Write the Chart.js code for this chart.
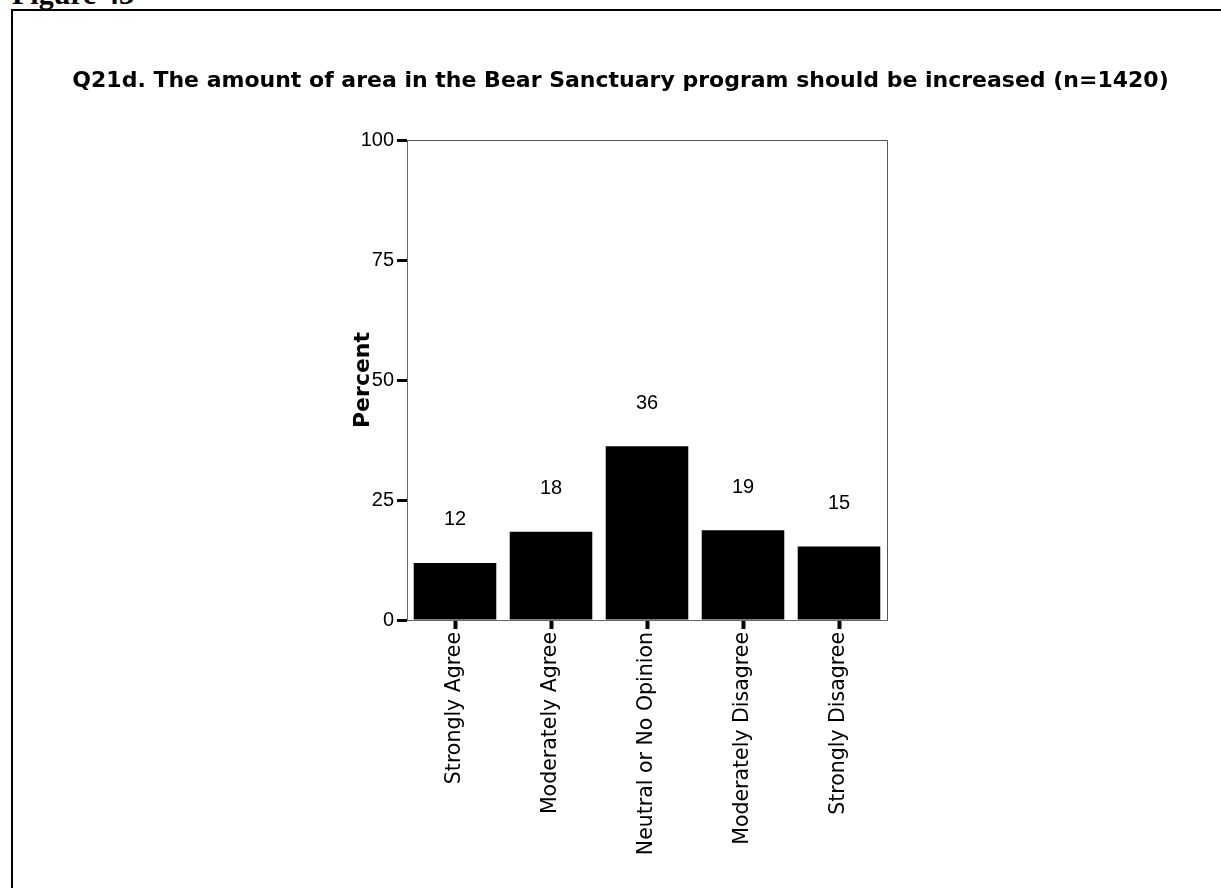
<!DOCTYPE html>
<html>
<head>
<meta charset="utf-8">
<script src="https://cdn.jsdelivr.net/npm/chart.js@4.4.1/dist/chart.umd.min.js"></script>
<style>
  html, body { margin: 0; padding: 0; background: #fff; overflow: hidden; width: 1221px; height: 888px; }
  #fig { position: absolute; left: 12px; top: -21px; font: bold 30px 'Liberation Serif', 'DejaVu Serif', serif; line-height: 30px; color: #000; white-space: nowrap; }
  #frame { position: absolute; left: 11px; top: 9px; width: 1400px; height: 1200px; border: 2px solid #000; }
  #c { position: absolute; left: 0; top: 0; }
</style>
</head>
<body>
<div id="fig">Figure 43</div>
<div id="frame"></div>
<canvas id="c" width="1221" height="888"></canvas>
<script>
const categories = ['Strongly Agree', 'Moderately Agree', 'Neutral or No Opinion', 'Moderately Disagree', 'Strongly Disagree'];
const percentValues = [11.9, 18.4, 36.2, 18.7, 15.3];
const yTickValues = [0, 25, 50, 75, 100];
const chartTitle = 'Q21d. The amount of area in the Bear Sanctuary program should be increased (n=1420)';
const yAxisTitle = 'Percent';

const FONT = "'Liberation Sans', Arial, Helvetica, sans-serif";
const WIDE = "'DejaVu Sans', Verdana, sans-serif";

const barLabels = {
  id: 'barLabels',
  afterDatasetsDraw(chart) {
    const ctx = chart.ctx;
    const meta = chart.getDatasetMeta(0);
    ctx.save();
    ctx.font = '20px ' + FONT;
    ctx.fillStyle = '#000';
    ctx.textAlign = 'center';
    ctx.textBaseline = 'middle';
    meta.data.forEach((bar, i) => {
      ctx.fillText(String(Math.round(percentValues[i])), bar.x, bar.y - 43);
    });
    ctx.restore();
  }
};

const plotFrame = {
  id: 'plotFrame',
  afterDraw(chart) {
    const a = chart.chartArea;
    const ctx = chart.ctx;
    ctx.save();
    ctx.strokeStyle = '#555';
    ctx.lineWidth = 1;
    ctx.beginPath();
    ctx.moveTo(Math.round(a.left) + 0.5, Math.round(a.top) + 0.5);
    ctx.lineTo(Math.round(a.right) + 0.5, Math.round(a.top) + 0.5);
    ctx.lineTo(Math.round(a.right) + 0.5, Math.round(a.bottom) + 0.5);
    ctx.stroke();
    ctx.restore();
  }
};

new Chart(document.getElementById('c'), {
  type: 'bar',
  data: {
    labels: categories,
    datasets: [{
      data: percentValues,
      backgroundColor: '#000',
      borderWidth: 0,
      barPercentage: 0.86,
      categoryPercentage: 1.0
    }]
  },
  options: {
    responsive: false,
    animation: false,
    devicePixelRatio: 1,
    layout: { padding: { left: 20, right: 0, top: 0, bottom: 0 } },
    plugins: {
      legend: { display: false },
      tooltip: { enabled: false },
      title: {
        display: true,
        text: chartTitle,
        color: '#000',
        font: { family: WIDE, size: 22, weight: 'bold', lineHeight: 1.2 },
        padding: { top: 68, bottom: 45.6 }
      }
    },
    scales: {
      x: {
        type: 'category',
        offset: true,
        grid: { offset: false, drawOnChartArea: false, drawTicks: true, tickLength: 9, tickWidth: 4, tickColor: '#000' },
        border: { display: true, color: '#666', width: 1 },
        ticks: { color: '#000', font: { family: WIDE, size: 20.5 }, minRotation: 90, maxRotation: 90, autoSkip: false, padding: 3 },
        afterFit(s) { s.height = 268; }
      },
      y: {
        min: 0,
        max: 100,
        afterBuildTicks(s) { s.ticks = yTickValues.map(v => ({ value: v })); },
        grid: { drawOnChartArea: false, drawTicks: true, tickLength: 10, tickWidth: 3, tickColor: '#000' },
        border: { display: true, color: '#666', width: 1 },
        ticks: { color: '#000', font: { family: FONT, size: 20 }, padding: 3 },
        title: {
          display: true,
          text: yAxisTitle,
          color: '#000',
          font: { family: WIDE, size: 22, weight: 'bold', lineHeight: 1.2 },
          padding: { top: 330, bottom: 0 }
        },
        afterFit(s) { s.width = 387; }
      },
      yPad: {
        position: 'right',
        display: true,
        grid: { display: false },
        border: { display: false },
        ticks: { display: false },
        afterFit(s) { s.width = 334; }
      }
    }
  },
  plugins: [barLabels, plotFrame]
});
</script>
</body>
</html>
